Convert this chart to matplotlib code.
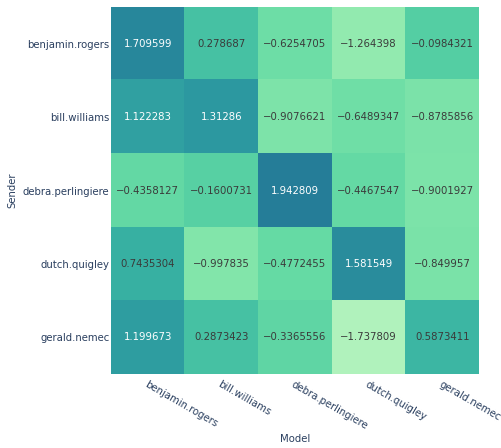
import numpy as np
import matplotlib
matplotlib.use("Agg")
import matplotlib.pyplot as plt
from matplotlib.colors import LinearSegmentedColormap

senders = ["benjamin.rogers", "bill.williams", "debra.perlingiere", "dutch.quigley", "gerald.nemec"]
models = ["benjamin.rogers", "bill.williams", "debra.perlingiere", "dutch.quigley", "gerald.nemec"]

row_benjamin = [1.709599, 0.278687, -0.6254705, -1.264398, -0.0984321]
row_bill = [1.122283, 1.31286, -0.9076621, -0.6489347, -0.8785856]
row_debra = [-0.4358127, -0.1600731, 1.942809, -0.4467547, -0.9001927]
row_dutch = [0.7435304, -0.997835, -0.4772455, 1.581549, -0.849957]
row_gerald = [1.199673, 0.2873423, -0.3365556, -1.737809, 0.5873411]

z = np.array([row_benjamin, row_bill, row_debra, row_dutch, row_gerald])

# plotly "Tealgrn" scale
tealgrn = ["#b0f2bc", "#89e8ac", "#67dba5", "#4cc8a3", "#38b2a3", "#2c98a0", "#257d98"]
cmap = LinearSegmentedColormap.from_list("tealgrn", tealgrn)

txt_col = "#2a3f5f"
fs = 7.3
plt.rcParams["font.family"] = "DejaVu Sans"

fig = plt.figure(figsize=(5.02, 4.48), dpi=100)
ax = fig.add_axes([111 / 502, 1 - 374 / 448, 368 / 502, 367 / 448])

zmin, zmax = z.min(), z.max()
ax.imshow(z, cmap=cmap, vmin=zmin, vmax=zmax, aspect="auto", interpolation="nearest")

for i in range(len(senders)):
    for j in range(len(models)):
        v = z[i, j]
        s = ("%.7g" % v).replace("-", "\u2212")
        frac = (v - zmin) / (zmax - zmin)
        c = "white" if frac > 0.72 else "#3a3a3a"
        ax.text(j, i, s, ha="center", va="center", color=c, fontsize=fs)

ax.set_xticks(range(len(models)))
ax.set_xticklabels(models, rotation=-30, ha="left", va="top", rotation_mode="anchor",
                   fontsize=fs, color=txt_col)
ax.set_yticks(range(len(senders)))
ax.set_yticklabels(senders, fontsize=fs, color=txt_col)
ax.tick_params(axis="both", length=0)
ax.tick_params(axis="x", pad=4)
ax.tick_params(axis="y", pad=1)
for sp in ax.spines.values():
    sp.set_visible(False)

ax.set_xlabel("Model", fontsize=fs, color=txt_col)
ax.xaxis.set_label_coords(0.5, -0.177)
ax.xaxis.label.set_va("center")
ax.set_ylabel("Sender", fontsize=fs, color=txt_col)
ax.yaxis.set_label_coords(-0.269, 0.5)
ax.yaxis.label.set_va("center")

fig.savefig("out.png", dpi=100)
